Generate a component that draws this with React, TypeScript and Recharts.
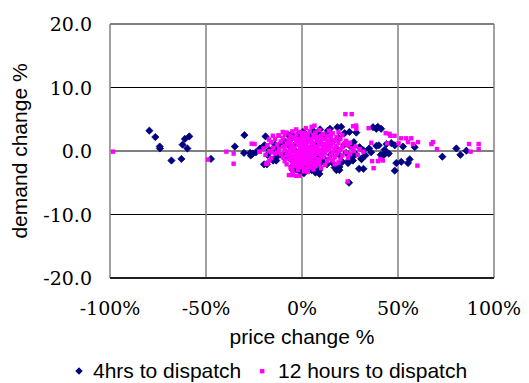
import React from "react";
import {
  ScatterChart,
  Scatter,
  XAxis,
  YAxis,
  CartesianGrid,
  Legend,
} from "recharts";

// [price change %, demand change %]
const FOUR_HRS: [number, number][] = [
  [-79.5, 3.2], [-76.4, 2.2], [-74.1, 0.7], [-74, 0.4], [-68, -1.5],
  [-62.8, -1.25], [-62.2, 1.0], [-61, 1.9], [-59.7, 0.4], [-58.7, 2.3],
  [-47.4, -1.25], [-35, 0.7], [-30.2, -0.3], [-30, 2.5], [-27, -0.3],
  [-26.7, -0.7], [-25.6, -0.4], [-21.9, 0.4], [-19.8, -2.1], [-19, 2.3],
  [-19.5, 0.9], [-18.3, -2.1], [-17, 0.2], [-15, -1.5], [-14.3, 0.4],
  [-14, 1.0], [-13.4, -1.5], [-11.6, 1.0], [-9.4, -0.9], [-7.1, 2.5],
  [-5.6, 2.6], [-4.8, -3.0], [0.4, 3.0], [7, -3.4], [6.4, -2.9],
  [9.1, -3.0], [9.1, -3.6], [9.4, 3.4], [13.4, 3.2], [14.6, 3.5],
  [17.9, -3.0], [18.4, 3.75], [19.5, -2.5], [19.5, -3.0], [20.4, 3.8],
  [22.2, 2.8], [24.5, -5.0], [24.3, -1.5], [24.7, 3.0], [26.5, -1.5],
  [28.3, 2.9], [29.7, -2.8], [30.9, -1.2], [32, -2.8], [37, 3.75],
  [38.7, 3.5], [38.7, 0.8], [39.5, 3.8], [41.2, 3.5], [42.2, -0.7],
  [43.4, -0.4], [45.2, -0.4], [46.5, 1.25], [48.3, 0.9], [49.1, -1.9],
  [48.3, -3.1], [51.7, -1.7], [52.6, 0.7], [55.2, -1.9], [56.1, -1.3],
  [58.7, 0.6], [73.1, -0.9], [80.4, 0.4], [82.5, -0.6], [85.6, 0.05],
  [-12, 0.6], [-10, -0.8], [-9, 1.5], [-8, -0.3], [-7, 0.9],
  [-6, -1.2], [-5, 2.1], [-5, -2.4], [-4, 0.2], [-4, -1.8],
  [-3, 1.2], [-3, -2.9], [-2, 2.6], [-2, -0.6], [-1, -3.2],
  [-1, 1.8], [0, -2.2], [0, 0.8], [1, -3.5], [1, 2.9],
  [1, -1.3], [2, 0.3], [2, -2.7], [3, 1.6], [3, -0.9],
  [4, 2.4], [4, -2.0], [5, -3.0], [5, 0.5], [6, 3.1],
  [6, -1.6], [7, 1.1], [7, -2.3], [8, 2.7], [8, -0.4],
  [9, -1.1], [10, 1.9], [10, -1.8], [11, 0.2], [12, 2.3],
  [12, -1.4], [13, -2.1], [14, 0.9], [15, -0.6], [16, 1.5],
  [16, -1.9], [17, -2.6], [18, 0.4], [19, 2.1], [20, -0.8],
  [21, -1.7], [22, 1.0], [23, -0.3], [24, -1.9], [25, 0.8],
  [26, -1.0], [27, 1.4], [28, -0.5], [30, 0.6], [31, -1.3],
  [32, 0.1], [33, -0.7], [35, 0.4], [36, -0.2], [40, 0.9],
  [41, -0.6], [43, 0.2], [44, 1.1], [-15, 0.1], [-13, -0.9],
  [-18, -0.6], [-20, 0.7], [-24, -0.2],
];

const TWELVE_HRS: [number, number][] = [
  // outliers
  [-98.4, -0.1], [-49, -1.35], [-39.4, -0.1], [-35.6, -2.0], [-35.6, -0.4],
  [-26.2, 1.15], [-24.7, 1.1], [-22.2, -0.1], [-18.6, -2.0], [-17.2, 1.8],
  [-15.8, -0.2], [-15.2, 2.4], [-12.3, 2.45], [-10, 3.0], [-6.8, -3.8],
  [-4.8, -3.8], [-3, -3.9], [-1.3, -3.9], [6.5, 4.0], [22.6, 5.8],
  [25.9, 5.8], [23.8, -4.8], [26.6, 3.9], [28.3, 3.5], [28.2, 4.0],
  [34.7, 3.6], [36.1, 1.3], [36.5, -1.6], [37.3, -2.7], [39.6, -1.6],
  [40.8, -1.3], [42.1, -1.5], [43.6, 2.8], [46, 2.4], [44.3, 1.2],
  [45.6, 2.7], [48.2, 2.4], [50.3, 1.2], [51.7, 2.0], [54.3, 2.0],
  [56.9, 2.0], [55.2, 1.4], [57.8, 1.1], [60.4, 1.4], [60.1, -2.3],
  [67.4, 1.1], [68.2, 1.4], [70.3, 0.3], [87, 1.1], [87.8, -0.1],
  [92, 1.1], [92, 0.3],
  // main cluster
  [-3, 3.4], [2, 3.6], [5, 3.8], [9, 3.3], [14, 3.2],
  [-8, 2.9], [-5, 3.1], [-1, 3.0], [1, 2.8], [4, 3.1], [7, 2.9], [11, 2.7], [16, 2.8], [19, 3.0],
  [-12, 2.4], [-9, 2.6], [-6, 2.4], [-3, 2.6], [0, 2.5], [2, 2.3], [3, 2.7], [6, 2.5], [8, 2.2],
  [10, 2.4], [13, 2.3], [15, 2.6], [18, 2.2], [21, 2.5],
  [-14, 1.9], [-10, 2.0], [-7, 1.8], [-4, 2.1], [-2, 1.9], [0, 2.0], [1, 1.7], [3, 2.0], [5, 1.9],
  [7, 2.1], [9, 1.8], [11, 1.9], [13, 1.6], [15, 2.0], [17, 1.7], [20, 1.9], [23, 1.6],
  [-16, 1.4], [-11, 1.5], [-8, 1.3], [-6, 1.6], [-3, 1.4], [-1, 1.3], [1, 1.5], [2, 1.2], [4, 1.4],
  [6, 1.3], [8, 1.6], [10, 1.3], [12, 1.1], [14, 1.4], [16, 1.2], [19, 1.3], [22, 1.1], [25, 1.3],
  [-18, 0.9], [-13, 1.0], [-9, 0.8], [-7, 1.1], [-5, 0.9], [-2, 1.0], [0, 0.8], [2, 0.9], [3, 0.6],
  [5, 1.0], [7, 0.7], [9, 1.0], [11, 0.6], [13, 0.9], [15, 0.7], [18, 0.8], [21, 0.6], [24, 0.9], [28, 0.7],
  [-20, 0.4], [-15, 0.5], [-12, 0.3], [-10, 0.6], [-6, 0.4], [-4, 0.5], [-1, 0.3], [1, 0.5], [3, 0.2],
  [4, 0.6], [6, 0.3], [8, 0.4], [10, 0.2], [12, 0.5], [14, 0.3], [17, 0.4], [20, 0.2], [26, 0.4], [30, 0.3],
  [-22, -0.1], [-17, 0.0], [-13, -0.2], [-9, 0.1], [-7, -0.1], [-5, 0.0], [-3, -0.2], [-1, 0.1], [0, -0.1],
  [2, 0.0], [4, -0.2], [5, 0.1], [7, -0.1], [9, 0.0], [11, -0.2], [13, 0.1], [16, -0.1], [19, 0.0],
  [23, -0.2], [27, 0.0], [32, -0.1],
  [-19, -0.6], [-14, -0.4], [-11, -0.5], [-8, -0.6], [-6, -0.4], [-4, -0.7], [-2, -0.5], [0, -0.6],
  [1, -0.4], [3, -0.6], [5, -0.5], [6, -0.8], [8, -0.5], [10, -0.7], [12, -0.4], [15, -0.6], [18, -0.5],
  [21, -0.7], [25, -0.5], [29, -0.6],
  [-16, -1.1], [-10, -1.0], [-7, -1.2], [-5, -0.9], [-3, -1.1], [-1, -1.0], [1, -1.2], [2, -0.9],
  [4, -1.1], [6, -1.0], [8, -1.3], [11, -1.0], [14, -1.2], [17, -1.0], [20, -1.3], [24, -1.1],
  [-17, -1.5], [-9, -1.6], [-6, -1.4], [-4, -1.7], [-2, -1.5], [0, -1.6], [2, -1.4], [3, -1.8],
  [5, -1.5], [7, -1.7], [9, -1.4], [13, -1.6], [16, -1.5], [19, -1.8],
  [-18, -2.0], [-8, -2.1], [-5, -1.9], [-3, -2.2], [-1, -2.0], [1, -2.1], [3, -2.3], [4, -1.9],
  [6, -2.2], [9, -2.0], [12, -2.2], [17, -2.1],
  [-6, -2.6], [-4, -2.4], [-2, -2.7], [0, -2.5], [2, -2.8], [4, -2.6], [7, -2.4], [10, -2.7],
  [-5, -3.1], [-2, -3.0], [1, -3.2], [3, -3.3], [6, -2.9],
];

const X_TICKS = [-100, -50, 0, 50, 100];
const Y_TICKS = [-20, -10, 0, 10, 20];

const NAVY = "#000080";
const MAGENTA = "#ff00ff";
const SERIF = "'DejaVu Serif', serif";
const SANS = "'Liberation Sans', Arial, Helvetica, sans-serif";

const toRows = (pts: [number, number][]) => pts.map(([x, y]) => ({ x, y }));

const Diamond = (p: any) => {
  const { cx, cy } = p;
  if (cx == null || cy == null) return <g />;
  const r = 3.6;
  return (
    <polygon
      points={`${cx},${cy - r} ${cx + r},${cy} ${cx},${cy + r} ${cx - r},${cy}`}
      fill={NAVY}
      stroke={NAVY}
      strokeWidth={0.8}
    />
  );
};

const Square = (p: any) => {
  const { cx, cy } = p;
  if (cx == null || cy == null) return <g />;
  const s = 4.4;
  return <rect x={cx - s / 2} y={cy - s / 2} width={s} height={s} fill={MAGENTA} />;
};

const XTick = (p: any) => (
  <text
    x={p.x}
    y={p.y + 29}
    textAnchor="middle"
    fontFamily={SERIF}
    fontSize={19}
    fill="#000"
  >
    {`${p.payload.value}%`}
  </text>
);

const YTick = (p: any) => (
  <text
    x={p.x - 10}
    y={p.y + 7}
    textAnchor="end"
    fontFamily={SERIF}
    fontSize={19}
    fill="#000"
  >
    {Number(p.payload.value).toFixed(1)}
  </text>
);

const LegendBox = () => (
  <div style={{ position: "relative", height: 24, fontFamily: SANS, fontSize: 21, color: "#000" }}>
    <svg width={10} height={10} style={{ position: "absolute", left: 74, top: 7 }}>
      <polygon points="5,1.3 8.7,5 5,8.7 1.3,5" fill={NAVY} />
    </svg>
    <span style={{ position: "absolute", left: 93, top: 0, lineHeight: "24px", whiteSpace: "nowrap" }}>
      4hrs to dispatch
    </span>
    <svg width={10} height={10} style={{ position: "absolute", left: 257, top: 7 }}>
      <rect x={3} y={3} width={4.4} height={4.4} fill={MAGENTA} />
    </svg>
    <span style={{ position: "absolute", left: 278, top: 0, lineHeight: "24px", whiteSpace: "nowrap" }}>
      12 hours to dispatch
    </span>
  </div>
);

export default function App() {
  return (
    <div style={{ position: "absolute", left: 0, top: 0, width: 529, height: 383, background: "#fff" }}>
      <ScatterChart
        width={529}
        height={383}
        margin={{ top: 24, right: 35, left: 0, bottom: 15 }}
      >
        <CartesianGrid
          vertical={false}
          stroke="#000"
          strokeWidth={1}
          horizontalValues={Y_TICKS}
        />
        <CartesianGrid
          horizontal={false}
          stroke="#808080"
          strokeWidth={1.5}
          verticalValues={X_TICKS}
        />
        <XAxis
          type="number"
          dataKey="x"
          domain={[-100, 100]}
          ticks={X_TICKS}
          tickLine={false}
          axisLine={{ stroke: "#000", strokeWidth: 1.5 }}
          height={66}
          tick={XTick}
          label={{
            value: "price change %",
            position: "insideBottom",
            offset: 0,
            fill: "#000",
            style: { fontFamily: SANS, fontSize: 21 },
          }}
        />
        <YAxis
          type="number"
          dataKey="y"
          domain={[-20, 20]}
          ticks={Y_TICKS}
          tickLine={false}
          axisLine={false}
          width={110}
          tick={YTick}
          label={{
            value: "demand change %",
            angle: -90,
            position: "insideLeft",
            offset: 20,
            fill: "#000",
            style: { textAnchor: "middle", fontFamily: SANS, fontSize: 21 },
          }}
        />
        <Legend
          verticalAlign="bottom"
          height={24}
          content={() => <LegendBox />}
          wrapperStyle={{ left: 0, width: 529, bottom: 0 }}
        />
        <Scatter
          name="4hrs to dispatch"
          data={toRows(FOUR_HRS)}
          shape={Diamond}
          isAnimationActive={false}
        />
        <Scatter
          name="12 hours to dispatch"
          data={toRows(TWELVE_HRS)}
          shape={Square}
          isAnimationActive={false}
        />
      </ScatterChart>
    </div>
  );
}
